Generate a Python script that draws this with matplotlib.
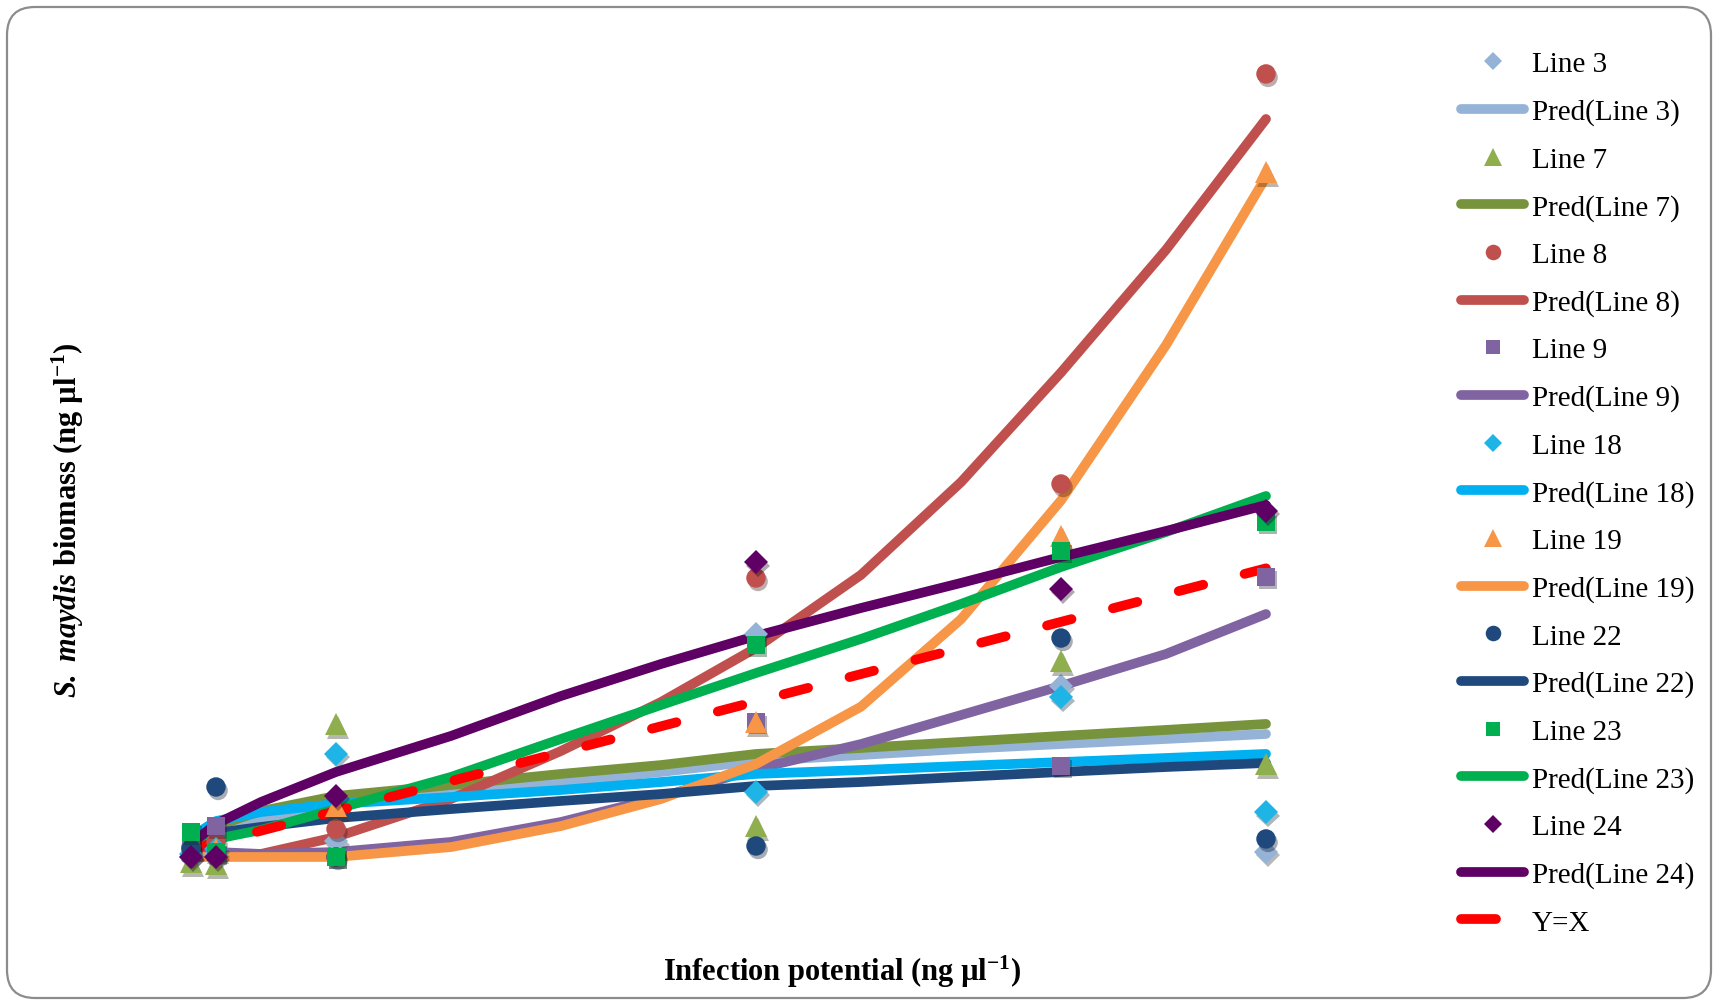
import matplotlib
matplotlib.use('Agg')
import matplotlib.pyplot as plt
import matplotlib.patheffects as pe
from matplotlib.lines import Line2D
from matplotlib.patches import FancyBboxPatch

# infection potential of the six inoculum levels
x_vals = [1.5, 2.0, 4.4, 12.8, 18.9, 23.0]

# measured biomass per line
line3 = [0.89, 1.12, 2.11, 17.97, 13.99, 1.27]
line7 = [0.50, 0.35, 11.08, 3.26, 15.90, 8.01]
line8 = [1.65, 2.04, 3.03, 22.26, 29.46, 60.87]
line9 = [1.88, 3.26, 0.89, 11.23, 7.86, 22.34]
line18 = [1.12, 1.50, 8.78, 5.87, 13.14, 4.33]
line19 = [1.65, 1.50, 4.79, 11.23, 25.48, 53.36]
line22 = [1.50, 6.25, 0.89, 1.73, 17.66, 2.27]
line23 = [2.80, 1.27, 0.89, 17.13, 24.33, 26.55]
line24 = [0.89, 0.89, 5.56, 23.48, 21.42, 27.39]

# predicted curves, read at these infection potentials
pred_x = [1.5, 2.0, 2.9, 4.4, 6.7, 8.9, 10.9, 12.8, 14.9, 16.9, 18.9, 21.0, 23.0]
pred3 = [2.11, 2.80, 3.80, 4.95, 5.87, 6.63, 7.40, 8.24, 8.70, 9.16, 9.54, 9.93, 10.31]
pred7 = [2.42, 3.26, 4.41, 5.56, 6.40, 7.25, 7.93, 8.78, 9.24, 9.70, 10.16, 10.62, 11.08]
pred8 = [0.96, 0.96, 1.12, 2.42, 5.33, 9.01, 12.76, 16.90, 22.50, 29.60, 38.00, 47.40, 57.42]
pred9 = [1.50, 1.27, 1.12, 1.27, 2.04, 3.57, 5.48, 7.63, 9.54, 11.76, 13.99, 16.44, 19.50]
pred18 = [2.42, 3.64, 4.33, 4.95, 5.48, 6.02, 6.63, 7.25, 7.55, 7.86, 8.16, 8.47, 8.78]
pred19 = [0.89, 0.89, 0.89, 0.89, 1.65, 3.26, 5.33, 8.00, 12.40, 19.10, 28.20, 40.10, 52.98]
pred22 = [2.11, 2.73, 3.19, 3.87, 4.56, 5.18, 5.71, 6.33, 6.63, 7.02, 7.40, 7.78, 8.09]
pred23 = [1.88, 2.27, 2.96, 4.56, 7.02, 9.93, 12.53, 14.98, 17.59, 20.27, 23.10, 25.78, 28.54]
pred24 = [1.88, 3.42, 5.10, 7.40, 10.16, 13.22, 15.67, 17.82, 19.96, 21.88, 23.87, 25.86, 27.85]

# y = x reference line end points
yx_x = [1.5, 23.0]

names = ['Line 3', 'Line 7', 'Line 8', 'Line 9', 'Line 18',
         'Line 19', 'Line 22', 'Line 23', 'Line 24']
measured = [line3, line7, line8, line9, line18, line19, line22, line23, line24]
predicted = [pred3, pred7, pred8, pred9, pred18, pred19, pred22, pred23, pred24]

# marker style / marker colour / curve colour for each line
markers = ['D', '^', 'o', 's', 'D', '^', 'o', 's', 'D']
marker_sizes = [12, 16, 14, 13, 12, 16, 14, 13, 12]
marker_colors = ['#95B3D7', '#8FAE4E', '#C0504D', '#8064A2', '#1FB4E6',
                 '#F79646', '#1F497D', '#00B050', '#5E0064']
line_colors = ['#95B3D7', '#77933C', '#C0504D', '#8064A2', '#00B0F0',
               '#F79646', '#1F497D', '#00B050', '#5E0064']

plt.rcParams['font.family'] = ['Liberation Serif', 'DejaVu Serif']
plt.rcParams['mathtext.fontset'] = 'custom'
plt.rcParams['mathtext.rm'] = 'Liberation Serif'
plt.rcParams['mathtext.bf'] = 'Liberation Serif:bold'
plt.rcParams['mathtext.it'] = 'Liberation Serif:italic'
plt.rcParams['mathtext.bfit'] = 'Liberation Serif:italic:bold'

fig = plt.figure(figsize=(17.16, 10.03), dpi=100)
ax = fig.add_axes([120 / 1716, 103 / 1003, 1210 / 1716, 850 / 1003])
ax.set_xlim(0.08, 24.28)
ax.set_ylim(-2.33, 62.78)
ax.axis('off')

# rounded frame around the whole chart
frame = FancyBboxPatch((0.07, 0.04), 17.04, 9.91,
                       boxstyle='round,pad=0,rounding_size=0.28',
                       transform=fig.dpi_scale_trans, fill=False,
                       edgecolor='#8C8C8C', linewidth=1.6)
fig.patches.append(frame)

# prediction curves
for vals, col in zip(predicted, line_colors):
    ax.plot(pred_x, vals, color=col, lw=7, solid_capstyle='round',
            solid_joinstyle='round', zorder=2)

# Y=X reference
ax.plot(yx_x, yx_x, color='#FF0000', lw=7, dashes=(2.6, 4.4),
        dash_capstyle='round', zorder=3)

# measured points on top
shadow = [pe.SimplePatchShadow(offset=(1.5, -2.5), alpha=0.35), pe.Normal()]
for vals, m, ms, col in zip(measured, markers, marker_sizes, marker_colors):
    ax.plot(x_vals, vals, ls='none', marker=m, ms=ms, color=col,
            markeredgewidth=0, zorder=4, clip_on=False, path_effects=shadow)

# legend: marker entry then its prediction, Y=X last
handles = []
labels = []
for name, m, ms, mc, lc in zip(names, markers, marker_sizes, marker_colors, line_colors):
    handles.append(Line2D([], [], ls='none', marker=m, ms=ms * 0.8,
                          color=mc, markeredgewidth=0))
    labels.append(name)
    handles.append(Line2D([], [], color=lc, lw=7, solid_capstyle='round'))
    labels.append('Pred(' + name + ')')
handles.append(Line2D([], [], color='#FF0000', lw=7, dashes=(3.6, 12),
                      dash_capstyle='round'))
labels.append('Y=X')

fig.legend(handles, labels, loc='upper left',
           bbox_to_anchor=(1461 / 1716, 1 - 52 / 1003),
           frameon=False, fontsize=21, handlelength=2.16,
           handletextpad=0.27, labelspacing=0.72,
           borderpad=0, borderaxespad=0)

fig.text(842 / 1716, 1 - 972 / 1003,
         r'Infection potential (ng µl$^{\mathbf{-1}}$)',
         ha='center', va='center', fontsize=22, fontweight='bold')
fig.text(68 / 1716, 1 - 520 / 1003,
         r'$\mathbfit{S.\ maydis}$ biomass (ng µl$^{\mathbf{-1}}$)',
         ha='center', va='center', rotation=90, fontsize=22, fontweight='bold')

fig.savefig('out.png', dpi=100)
